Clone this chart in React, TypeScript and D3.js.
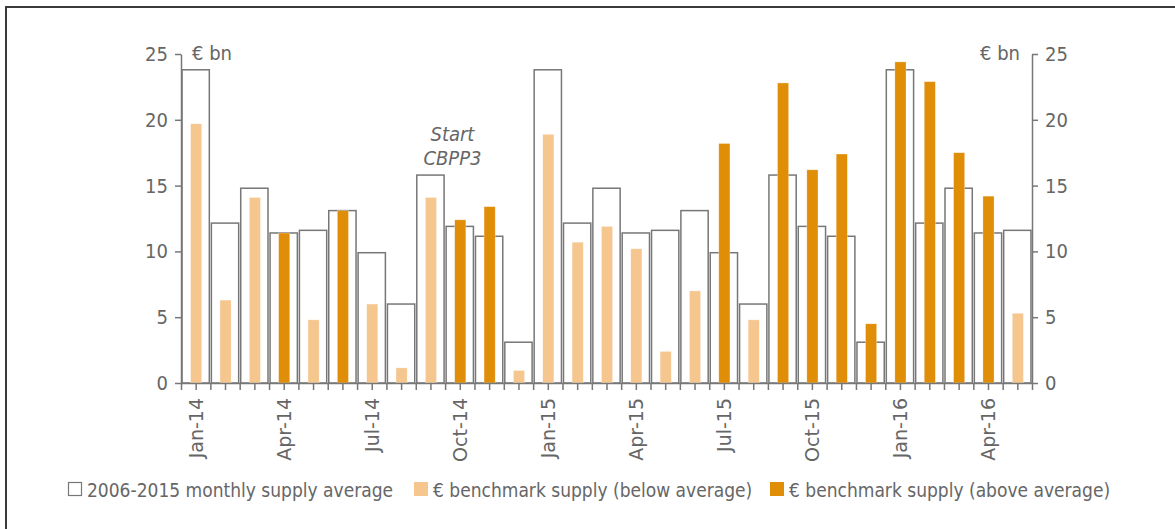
import * as d3 from "d3";
import { useEffect, useRef } from "react";

const months = [
  "Jan-14", "Feb-14", "Mar-14", "Apr-14", "May-14", "Jun-14", "Jul-14", "Aug-14", "Sep-14", "Oct-14", "Nov-14", "Dec-14",
  "Jan-15", "Feb-15", "Mar-15", "Apr-15", "May-15", "Jun-15", "Jul-15", "Aug-15", "Sep-15", "Oct-15", "Nov-15", "Dec-15",
  "Jan-16", "Feb-16", "Mar-16", "Apr-16", "May-16",
];

// 2006-2015 monthly supply average (same calendar month each year)
const averageSupply = [
  23.8, 12.15, 14.8, 11.4, 11.6, 13.1, 9.9, 6.0, 15.8, 11.9, 11.15, 3.1,
  23.8, 12.15, 14.8, 11.4, 11.6, 13.1, 9.9, 6.0, 15.8, 11.9, 11.15, 3.1,
  23.8, 12.15, 14.8, 11.4, 11.6,
];

const benchmarkSupply = [
  19.7, 6.3, 14.1, 11.4, 4.8, 13.1, 6.0, 1.15, 14.1, 12.4, 13.4, 0.95,
  18.9, 10.7, 11.9, 10.2, 2.4, 7.0, 18.2, 4.8, 22.8, 16.2, 17.4, 4.5,
  24.4, 22.9, 17.5, 14.2, 5.3,
];

const supplyClass = [
  "below", "below", "below", "above", "below", "above", "below", "below", "below", "above", "above", "below",
  "below", "below", "below", "below", "below", "below", "above", "below", "above", "above", "above", "above",
  "above", "above", "above", "above", "below",
];

const tickLabels = ["Jan-14", "Apr-14", "Jul-14", "Oct-14", "Jan-15", "Apr-15", "Jul-15", "Oct-15", "Jan-16", "Apr-16"];
const yTicks = [0, 5, 10, 15, 20, 25];

const legendItems = [
  { key: "avg", label: "2006-2015 monthly supply average" },
  { key: "below", label: "€ benchmark supply (below average)" },
  { key: "above", label: "€ benchmark supply (above average)" },
];

const LIGHT = "#f5c78f";
const DARK = "#e08e07";
const GREY = "#777";
const TEXT = "#666";
const FONT = "'DejaVu Sans Condensed', 'DejaVu Sans', sans-serif";

export default function App() {
  const svgRef = useRef<SVGSVGElement>(null);

  useEffect(() => {
    if (!svgRef.current) return;
    const svg = d3.select(svgRef.current);
    svg.selectAll("*").remove();

    const left = 181;
    const right = 1032;
    const bottom = 383;
    const top = 54;

    const x = d3.scaleBand<string>().domain(months).range([left, right]);
    const xi = d3.scaleLinear().domain([0, months.length]).range([left, right]);
    const y = d3.scaleLinear().domain([0, 25]).range([bottom, top]);
    const bw = x.bandwidth();

    // frame (top + left only)
    svg
      .append("path")
      .attr("d", "M6,529V7H1175")
      .attr("fill", "none")
      .attr("stroke", "#3a3a3a")
      .attr("stroke-width", 2);

    // average outline bars
    svg
      .selectAll(".avg")
      .data(months)
      .enter()
      .append("rect")
      .attr("x", (d) => (x(d) || 0) + bw * 0.035)
      .attr("y", (_, i) => y(averageSupply[i]))
      .attr("width", bw * 0.93)
      .attr("height", (_, i) => bottom - y(averageSupply[i]))
      .attr("fill", "#fff")
      .attr("stroke", GREY)
      .attr("stroke-width", 1.5);

    // benchmark bars
    svg
      .selectAll(".bench")
      .data(months)
      .enter()
      .append("rect")
      .attr("x", (d) => (x(d) || 0) + bw * 0.5 - bw * 0.19 + 0.5)
      .attr("y", (_, i) => y(benchmarkSupply[i]))
      .attr("width", bw * 0.38)
      .attr("height", (_, i) => bottom - y(benchmarkSupply[i]))
      .attr("fill", (_, i) => (supplyClass[i] === "above" ? DARK : LIGHT))
      .attr("stroke", "#fff")
      .attr("stroke-opacity", 0.5)
      .attr("stroke-width", 0.6);

    const styleAxis = (g: any) => {
      g.selectAll("path").attr("stroke", GREY).attr("stroke-width", 1.5);
      g.selectAll("line").attr("stroke", GREY).attr("stroke-width", 1.5);
      g.selectAll("text")
        .attr("fill", TEXT)
        .style("font-family", FONT)
        .style("font-size", "20px");
    };

    // bottom axis with ticks at band edges and centres
    svg
      .append("g")
      .attr("transform", `translate(0,${bottom})`)
      .call(
        d3
          .axisBottom(xi)
          .tickValues(d3.range(0, months.length * 2 + 1).map((k) => k / 2))
          .tickSize(7)
          .tickSizeOuter(0)
          .tickFormat(() => ""),
      )
      .call(styleAxis);

    // left axis
    svg
      .append("g")
      .attr("transform", `translate(${left},0)`)
      .call(d3.axisLeft(y).tickValues(yTicks).tickSize(6).tickSizeOuter(0).tickPadding(7))
      .call(styleAxis);

    // right axis
    svg
      .append("g")
      .attr("transform", `translate(${right},0)`)
      .call(d3.axisRight(y).tickValues(yTicks).tickSize(6).tickSizeOuter(0).tickPadding(7))
      .call(styleAxis);

    // unit labels
    svg
      .append("text")
      .attr("x", left + 11)
      .attr("y", 60)
      .attr("fill", TEXT)
      .style("font-family", FONT)
      .style("font-size", "20px")
      .text("€ bn");
    svg
      .append("text")
      .attr("x", right - 12)
      .attr("y", 60)
      .attr("text-anchor", "end")
      .attr("fill", TEXT)
      .style("font-family", FONT)
      .style("font-size", "20px")
      .text("€ bn");

    // x labels
    svg
      .selectAll(".xlab")
      .data(tickLabels)
      .enter()
      .append("text")
      .attr(
        "transform",
        (d) => `translate(${(x(d) || 0) + bw / 2 + 0.5},${bottom + 15}) rotate(-90)`,
      )
      .attr("text-anchor", "end")
      .attr("dy", "0.36em")
      .attr("fill", TEXT)
      .style("font-family", "'DejaVu Sans', sans-serif")
      .style("font-size", "19px")
      .text((d) => d);

    // annotation, placed just past the Sep-14 / Oct-14 boundary
    const ann = svg
      .append("text")
      .attr("text-anchor", "middle")
      .attr("fill", TEXT)
      .style("font-family", FONT)
      .style("font-size", "20px")
      .style("font-style", "italic");
    const ax = (x("Oct-14") || 0) + bw * 0.25;
    ann.append("tspan").attr("x", ax).attr("y", 141).text("Start");
    ann.append("tspan").attr("x", ax).attr("y", 165).text("CBPP3");

    // legend
    const legendX = [68, 414, 770];
    const lg = svg
      .selectAll(".leg")
      .data(legendItems)
      .enter()
      .append("g")
      .attr("transform", (_, i) => `translate(${legendX[i]},482)`);
    lg.append("rect")
      .attr("x", (d) => (d.key === "avg" ? 0.5 : 0))
      .attr("y", (d) => (d.key === "avg" ? 0.5 : 0))
      .attr("width", (d) => (d.key === "avg" ? 13 : 14))
      .attr("height", (d) => (d.key === "avg" ? 13 : 14))
      .attr("fill", (d) => (d.key === "avg" ? "#fff" : d.key === "above" ? DARK : LIGHT))
      .attr("stroke", (d) => (d.key === "avg" ? GREY : "none"))
      .attr("stroke-width", 1.2);
    lg.append("text")
      .attr("x", 19)
      .attr("y", 15)
      .attr("fill", TEXT)
      .style("font-family", FONT)
      .style("font-size", "19px")
      .text((d) => d.label);
  }, []);

  return (
    <svg
      ref={svgRef}
      width={1175}
      height={529}
      style={{ position: "absolute", left: 0, top: 0, background: "#fff" }}
    />
  );
}
